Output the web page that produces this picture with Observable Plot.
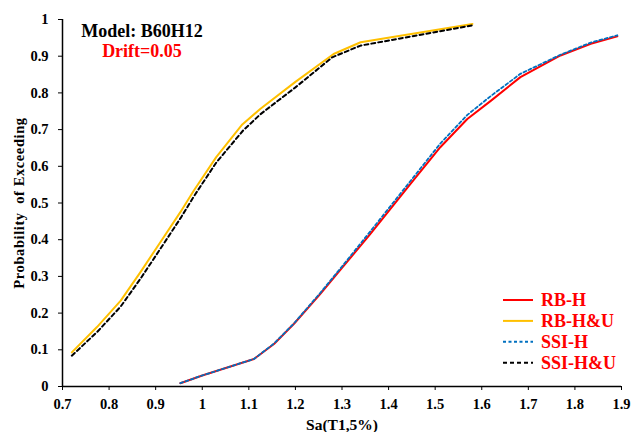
<!DOCTYPE html>
<html>
<head>
<meta charset="utf-8">
<script src="https://cdn.jsdelivr.net/npm/d3@7"></script>
<script src="https://cdn.jsdelivr.net/npm/@observablehq/plot@0.6"></script>
<style>
  html, body { margin: 0; padding: 0; background: #fff; }
  #wrap { position: relative; width: 634px; height: 432px; }
  #overlay { position: absolute; left: 0; top: 0; pointer-events: none; }
</style>
</head>
<body>
<div id="wrap"></div>
<script>
// ---- data ----
const xTicks = [0.7, 0.8, 0.9, 1.0, 1.1, 1.2, 1.3, 1.4, 1.5, 1.6, 1.7, 1.8, 1.9];
const xTickLabels = ["0.7","0.8","0.9","1","1.1","1.2","1.3","1.4","1.5","1.6","1.7","1.8","1.9"];
const yTicks = [0, 0.1, 0.2, 0.3, 0.4, 0.5, 0.6, 0.7, 0.8, 0.9, 1.0];
const yTickLabels = ["0","0.1","0.2","0.3","0.4","0.5","0.6","0.7","0.8","0.9","1"];

const rbH_sa = [0.953, 1.0, 1.111, 1.154, 1.197, 1.254, 1.30, 1.361, 1.447, 1.511, 1.569, 1.62, 1.683, 1.769, 1.834, 1.891];
const rbH_p  = [0.009, 0.030, 0.075, 0.116, 0.171, 0.253, 0.323, 0.416, 0.552, 0.652, 0.729, 0.779, 0.843, 0.902, 0.934, 0.954];

const ssiH_sa = [0.953, 1.0, 1.111, 1.154, 1.197, 1.254, 1.30, 1.361, 1.447, 1.511, 1.569, 1.62, 1.683, 1.769, 1.834, 1.891];
const ssiH_p  = [0.009, 0.030, 0.075, 0.117, 0.172, 0.256, 0.327, 0.423, 0.560, 0.662, 0.740, 0.792, 0.852, 0.904, 0.937, 0.957];

const rbHU_sa = [0.72, 0.774, 0.825, 0.867, 0.910, 0.953, 0.982, 1.03, 1.086, 1.125, 1.2, 1.282, 1.34, 1.58];
const rbHU_p  = [0.093, 0.162, 0.234, 0.311, 0.393, 0.475, 0.534, 0.625, 0.714, 0.757, 0.830, 0.906, 0.938, 0.988];

const ssiHU_sa = [0.72, 0.774, 0.825, 0.867, 0.910, 0.953, 0.982, 1.03, 1.088, 1.125, 1.2, 1.279, 1.34, 1.58];
const ssiHU_p  = [0.084, 0.148, 0.218, 0.293, 0.375, 0.458, 0.518, 0.610, 0.698, 0.742, 0.815, 0.897, 0.929, 0.984];

const seriesNames = ["RB-H", "RB-H&U", "SSI-H", "SSI-H&U"];
const seriesColors = ["#ff0000", "#ffc000", "#0070c0", "#000000"];
const seriesDash = [null, null, "3,2.5", "4,3"];

const titleText = "Model: B60H12";
const subtitleText = "Drift=0.05";

// ---- build ----
const toRows = (sa, p) => sa.map((s, i) => ({sa: s, p: p[i]}));
const rbH = toRows(rbH_sa, rbH_p);
const ssiH = toRows(ssiH_sa, ssiH_p);
const rbHU = toRows(rbHU_sa, rbHU_p);
const ssiHU = toRows(ssiHU_sa, ssiHU_p);

const font = "'Liberation Serif', 'Times New Roman', serif";

const chart = Plot.plot({
  width: 634,
  height: 432,
  marginLeft: 62,
  marginRight: 13,
  marginTop: 19,
  marginBottom: 46,
  style: {fontFamily: font, fontWeight: "bold", fontSize: "14.5px", color: "#000", background: "#fff"},
  x: {domain: [0.7, 1.9]},
  y: {domain: [0, 1]},
  marks: [
    Plot.axisX({ticks: xTicks, tickFormat: (d, i) => xTickLabels[i], tickSize: 4, tickPadding: 8,
      label: "Sa(T1,5%)", labelAnchor: "center", labelArrow: "none", labelOffset: 43}),
    Plot.axisY({ticks: yTicks, tickFormat: (d, i) => yTickLabels[i], tickSize: 4, tickPadding: 10,
      label: "Probability  of Exceeding", labelAnchor: "center", labelArrow: "none", labelOffset: 49}),
    Plot.ruleX([0.7], {stroke: "#000", strokeWidth: 1.5}),
    Plot.ruleY([0], {stroke: "#000", strokeWidth: 1.5}),
    Plot.line(rbHU, {x: "sa", y: "p", stroke: seriesColors[1], strokeWidth: 2}),
    Plot.line(ssiHU, {x: "sa", y: "p", stroke: seriesColors[3], strokeWidth: 2, strokeDasharray: seriesDash[3]}),
    Plot.line(rbH, {x: "sa", y: "p", stroke: seriesColors[0], strokeWidth: 2}),
    Plot.line(ssiH, {x: "sa", y: "p", stroke: seriesColors[2], strokeWidth: 1.8, strokeDasharray: seriesDash[2]})
  ]
});

// slightly wider spacing on axis titles, as in the reference
chart.querySelectorAll('[aria-label="y-axis label"] text').forEach(t => t.style.letterSpacing = "0.6px");
chart.querySelectorAll('[aria-label="x-axis label"] text').forEach(t => t.style.fontSize = "15.5px");

const wrap = document.getElementById("wrap");
wrap.appendChild(chart);

// overlay: title + legend
const ns = "http://www.w3.org/2000/svg";
const ov = document.createElementNS(ns, "svg");
ov.setAttribute("id", "overlay");
ov.setAttribute("width", 634);
ov.setAttribute("height", 432);
ov.style.fontFamily = font;
ov.style.fontWeight = "bold";

function addText(txt, x, y, size, fill, anchor) {
  const t = document.createElementNS(ns, "text");
  t.setAttribute("x", x); t.setAttribute("y", y);
  t.setAttribute("font-size", size);
  t.setAttribute("fill", fill);
  t.setAttribute("text-anchor", anchor);
  t.textContent = txt;
  ov.appendChild(t);
}
addText(titleText, 142, 37, 18, "#000", "middle");
addText(subtitleText, 142, 57, 18, "#ff0000", "middle");

seriesNames.forEach((name, i) => {
  const cy = 300 + i * 20.9;
  const l = document.createElementNS(ns, "line");
  l.setAttribute("x1", 503); l.setAttribute("x2", 533);
  l.setAttribute("y1", cy); l.setAttribute("y2", cy);
  l.setAttribute("stroke", seriesColors[i]);
  l.setAttribute("stroke-width", 2);
  if (seriesDash[i]) l.setAttribute("stroke-dasharray", seriesDash[i]);
  ov.appendChild(l);
  addText(name, 541, cy + 6, 18, "#ff0000", "start");
});
wrap.appendChild(ov);
</script>
</body>
</html>
